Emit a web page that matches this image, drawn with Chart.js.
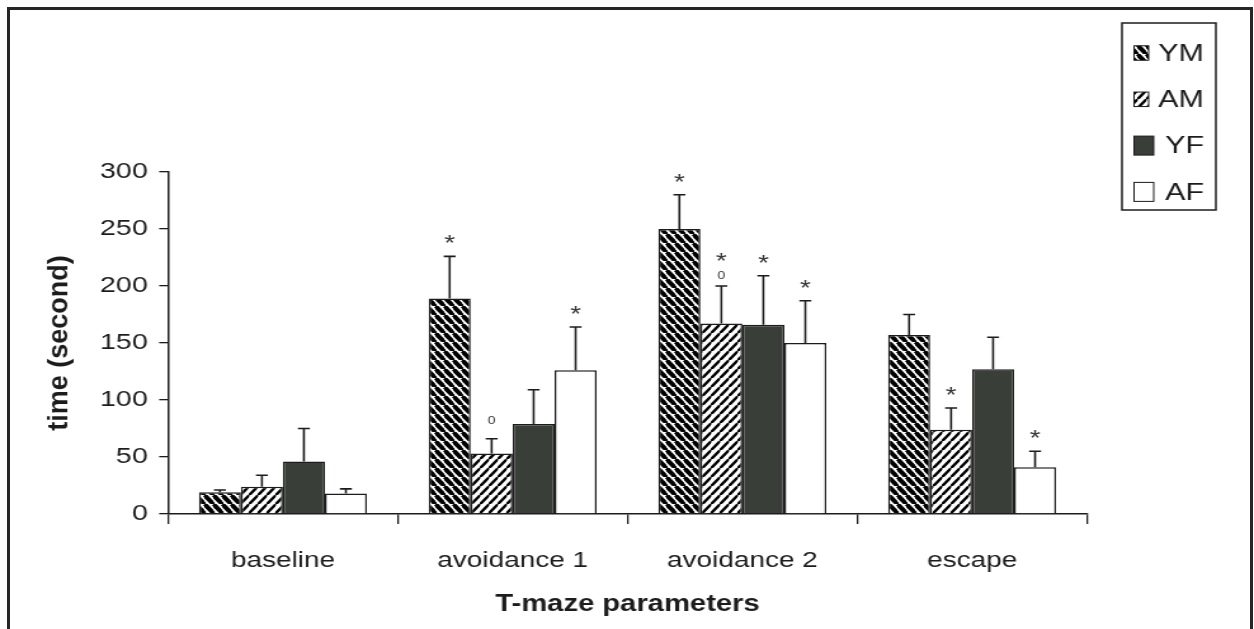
<!DOCTYPE html>
<html>
<head>
<meta charset="utf-8">
<script src="https://cdn.jsdelivr.net/npm/chart.js@4.4.1/dist/chart.umd.min.js"></script>
<style>
  html, body { margin: 0; padding: 0; background: #fff; overflow: hidden; }
  #wrap { position: relative; width: 1254px; height: 629px; }
  /* the source figure is stretched sideways, so the canvas is too */
  #c { position: absolute; left: 0; top: 0; transform: scaleX(1.2692); transform-origin: 0 0; }
  #frame { position: absolute; left: 7px; top: 7px; width: 1240px; height: 660px; border: 3px solid #262626; }
</style>
</head>
<body>
<div id="wrap">
  <canvas id="c" width="988" height="629"></canvas>
  <div id="frame"></div>
</div>
<script>
  const categories = ['baseline', 'avoidance 1', 'avoidance 2', 'escape'];
  const seriesNames = ['YM', 'AM', 'YF', 'AF'];

  const ymValues = [19, 189, 250, 157];
  const amValues = [24, 53, 167, 74];
  const yfValues = [46, 79, 166, 127];
  const afValues = [18, 126, 150, 41];

  // upper error bar (SEM), seconds
  const ymErr = [2, 37, 30, 18];
  const amErr = [10, 13, 33, 19];
  const yfErr = [29, 30, 43, 28];
  const afErr = [4, 38, 37, 14];

  // significance marks above error bars, bottom to top
  const ymMarks = ['', '*', '*', ''];
  const amMarks = ['', '0', '0*', '*'];
  const yfMarks = ['', '', '*', ''];
  const afMarks = ['', '*', '*', '*'];

  const yTicks = [0, 50, 100, 150, 200, 250, 300];

  const STRETCH = 1.2692;
  const FONT = "'Liberation Sans', Arial, Helvetica, sans-serif";
  const INK = '#1c1c1c';
  Chart.defaults.font.family = FONT;
  Chart.defaults.color = INK;

  function stripes(dir, lw) {
    const w = 7.5, h = 9.5;
    const c = document.createElement('canvas');
    c.width = w; c.height = h;
    const g = c.getContext('2d');
    g.fillStyle = '#fff';
    g.fillRect(0, 0, w, h);
    g.strokeStyle = '#000';
    g.lineWidth = lw;
    g.beginPath();
    for (let k = -1; k <= 1; k++) {
      if (dir === 'down') {
        g.moveTo(k * w, 0); g.lineTo(k * w + w, h);
      } else {
        g.moveTo(k * w, h); g.lineTo(k * w + w, 0);
      }
    }
    g.stroke();
    return g.createPattern(c, 'repeat');
  }

  const ctx = document.getElementById('c').getContext('2d');
  const fills = [stripes('down', 3.9), stripes('up', 2.4), '#3a3e38', '#ffffff'];
  const values = [ymValues, amValues, yfValues, afValues];
  const errs = [ymErr, amErr, yfErr, afErr];
  const marks = [ymMarks, amMarks, yfMarks, afMarks];

  const errorBars = {
    id: 'errorBars',
    afterDatasetsDraw(chart) {
      const c = chart.ctx;
      const y = chart.scales.y;
      c.save();
      chart.data.datasets.forEach((ds, di) => {
        const meta = chart.getDatasetMeta(di);
        meta.data.forEach((bar, i) => {
          const top = y.getPixelForValue(ds.data[i] + ds.errors[i]);
          c.strokeStyle = INK;
          c.lineWidth = 1.6;
          c.beginPath();
          c.moveTo(bar.x, bar.y);
          c.lineTo(bar.x, top);
          c.moveTo(bar.x - 4.7, top);
          c.lineTo(bar.x + 4.7, top);
          c.stroke();

          const m = ds.marks[i] || '';
          c.fillStyle = '#333';
          c.textAlign = 'center';
          c.textBaseline = 'alphabetic';
          for (let k = 0; k < m.length; k++) {
            const ch = m[k];
            const centre = top - (m.length === 1 ? 19 : 11) - k * 20;
            const size = ch === '*' ? 22 : 11;
            c.font = size + 'px ' + FONT;
            const lift = ch === '*' ? 0.58 * size : 0.36 * size;
            c.fillText(ch, bar.x, centre + lift);
          }
        });
      });
      c.restore();
    }
  };

  // y title is not stretched in the source, so undo the stretch for it
  const yTitle = {
    id: 'yTitle',
    afterDraw(chart) {
      const c = chart.ctx;
      const area = chart.chartArea;
      c.save();
      c.translate(47.5, (area.top + area.bottom) / 2);
      c.scale(1 / STRETCH, 1);
      c.rotate(-Math.PI / 2);
      c.fillStyle = INK;
      c.font = 'bold 27px ' + FONT;
      c.textAlign = 'center';
      c.textBaseline = 'middle';
      c.fillText('time (second)', 0, 0);
      c.restore();
    }
  };

  const boxLegend = {
    id: 'boxLegend',
    afterDraw(chart) {
      const c = chart.ctx;
      const left = 884, right = 958, top = 23, bottom = 210;
      c.save();
      c.fillStyle = '#fff';
      c.fillRect(left, top, right - left, bottom - top);
      c.strokeStyle = INK;
      c.lineWidth = 1.5;
      c.strokeRect(left, top, right - left, bottom - top);
      chart.data.datasets.forEach((ds, i) => {
        const cy = top + 30 + i * 46.3;
        const solid = typeof ds.backgroundColor === 'string';
        const sw = solid ? 15.5 : 11.5, sh = solid ? 19 : 14.5;
        c.fillStyle = ds.backgroundColor;
        c.fillRect(893.5, cy - sh / 2, sw, sh);
        c.strokeStyle = INK;
        c.lineWidth = 1;
        c.strokeRect(893.5, cy - sh / 2, sw, sh);
        c.fillStyle = INK;
        c.font = '24px ' + FONT;
        c.textAlign = 'right';
        c.textBaseline = 'middle';
        c.fillText(ds.label, 948.6, cy + 1);
      });
      c.restore();
    }
  };

  new Chart(ctx, {
    type: 'bar',
    data: {
      labels: categories,
      datasets: seriesNames.map((name, i) => ({
        label: name,
        data: values[i],
        errors: errs[i],
        marks: marks[i],
        backgroundColor: fills[i],
        borderColor: INK,
        borderWidth: 1.5,
        borderSkipped: 'bottom',
        categoryPercentage: 0.731,
        barPercentage: 1
      }))
    },
    plugins: [errorBars, yTitle, boxLegend],
    options: {
      responsive: false,
      animation: false,
      devicePixelRatio: 1,
      layout: { padding: { left: 0, right: 131.6, top: 172, bottom: 0 } },
      plugins: {
        legend: { display: false },
        tooltip: { enabled: false }
      },
      scales: {
        x: {
          offset: true,
          afterFit: s => { s.height = 115; },
          grid: { offset: true, drawOnChartArea: false, drawTicks: true, tickLength: 10, color: INK, lineWidth: 1.3 },
          border: { display: true, color: INK, width: 1.5 },
          ticks: { font: { size: 22 }, color: INK, padding: 24 },
          title: {
            display: true, text: 'T-maze parameters', color: INK,
            font: { size: 23, weight: 'bold' }, padding: { top: 0, bottom: 11 }
          }
        },
        y: {
          min: 0,
          max: 300,
          afterFit: s => { s.width = 132.4; },
          afterBuildTicks: s => { s.ticks = yTicks.map(v => ({ value: v })); },
          grid: { drawOnChartArea: false, drawTicks: true, tickLength: 7, color: INK, lineWidth: 1.3 },
          border: { display: true, color: INK, width: 1.5 },
          ticks: { font: { size: 22.5 }, color: INK, padding: 9 }
        }
      }
    }
  });
</script>
</body>
</html>
